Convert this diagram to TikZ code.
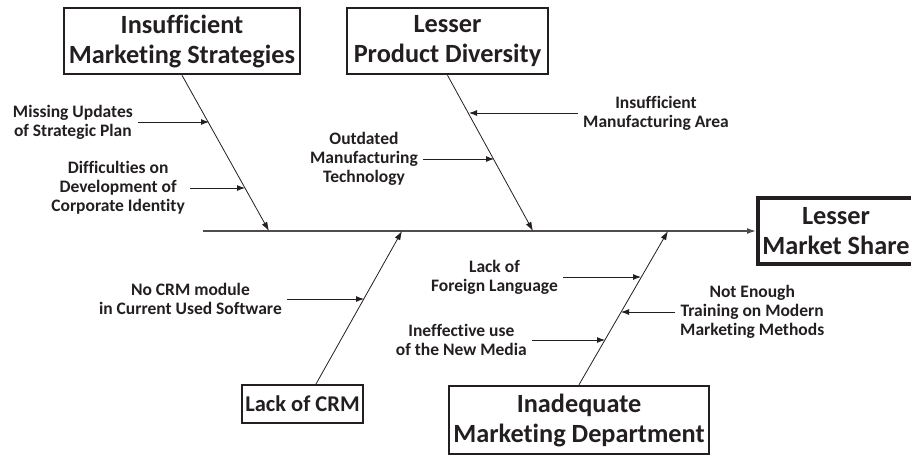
\documentclass[tikz,border=0pt]{standalone}
\usepackage{fontspec}
\setmainfont{Carlito}[Ligatures=NoCommon]
\usetikzlibrary{arrows.meta}
\definecolor{ink}{RGB}{35,31,32}
\tikzset{
  cause/.style={draw=ink, text=ink, line width=2.5pt, inner sep=0pt, align=center,
    font=\fontsize{26.3}{30}\selectfont\bfseries},
  sub/.style={text=ink, inner xsep=5pt, inner ysep=1pt, align=center,
    font=\fontsize{17.5}{19}\selectfont\bfseries},
  bone/.style={draw=ink, line width=0.8pt, -{Latex[length=9pt,width=6pt]}},
  twig/.style={draw=ink, line width=0.9pt, -{Latex[length=8pt,width=6pt]}}
}
\begin{document}
\begin{tikzpicture}[x=1pt,y=-1pt]
  \useasboundingbox (0,0) rectangle (911,456);
  % boxes
  \node[cause, minimum width=236, minimum height=66] (strat) at (182,41) {Insufficient\\Marketing Strategies};
  \node[cause, minimum width=201, minimum height=66] (prod) at (447.5,41) {Lesser\\Product Diversity};
  \node[cause, minimum width=121, minimum height=38, font=\fontsize{22.5}{26}\selectfont\bfseries] (crm) at (302.5,404) {Lack of CRM};
  \node[cause, minimum width=260, minimum height=68] (dept) at (579,420) {Inadequate\\Marketing Department};
  \node[cause, line width=4pt, minimum width=156, minimum height=66] (effect) at (836,231) {Lesser\\Market Share};
  % spine and bones
  \coordinate (tail) at (203,231);
  \coordinate (j1) at (269,231);
  \coordinate (j2) at (533,231);
  \coordinate (j3) at (402,231);
  \coordinate (j4) at (668,231);
  \coordinate (c3) at (316,384);
  \draw[line width=1.3pt, draw=ink!80, -{Latex[length=9pt,width=6pt]}] (tail) -- (effect.west);
  \draw[bone] (strat.south) -- (j1);
  \draw[bone] (prod.south) -- (j2);
  \draw[bone] (c3) -- (j3);
  \draw[bone] (dept.north) -- (j4);
  % sub causes
  \node[sub, anchor=east] (t11) at (138,122) {Missing Updates\\of Strategic Plan};
  \node[sub, anchor=east] (t12) at (190,188) {Difficulties on\\Development of\\Corporate Identity};
  \node[sub, anchor=west] (t21) at (578,113) {Insufficient\\Manufacturing Area};
  \node[sub, anchor=east] (t22) at (423,159) {Outdated\\Manufacturing\\Technology};
  \node[sub, anchor=east] (t31) at (287,299) {No CRM module\\in Current Used Software};
  \node[sub, anchor=east] (t41) at (563,277) {Lack of\\Foreign Language};
  \node[sub, anchor=west] (t42) at (675,312) {Not Enough\\Training on Modern\\Marketing Methods};
  \node[sub, anchor=east] (t43) at (532,340) {Ineffective use\\of the New Media};
  \coordinate (p11) at (209,122);
  \coordinate (p12) at (245,188);
  \coordinate (p21) at (469,113);
  \coordinate (p22) at (494,159);
  \coordinate (p31) at (364,299);
  \coordinate (p41) at (641,277);
  \coordinate (p42) at (621,312);
  \coordinate (p43) at (605,340);
  \draw[twig] (t11.east) -- (p11);
  \draw[twig] (t12.east) -- (p12);
  \draw[twig] (t21.west) -- (p21);
  \draw[twig] (t22.east) -- (p22);
  \draw[twig] (t31.east) -- (p31);
  \draw[twig] (t41.east) -- (p41);
  \draw[twig] (t42.west) -- (p42);
  \draw[twig] (t43.east) -- (p43);
\end{tikzpicture}
\end{document}
